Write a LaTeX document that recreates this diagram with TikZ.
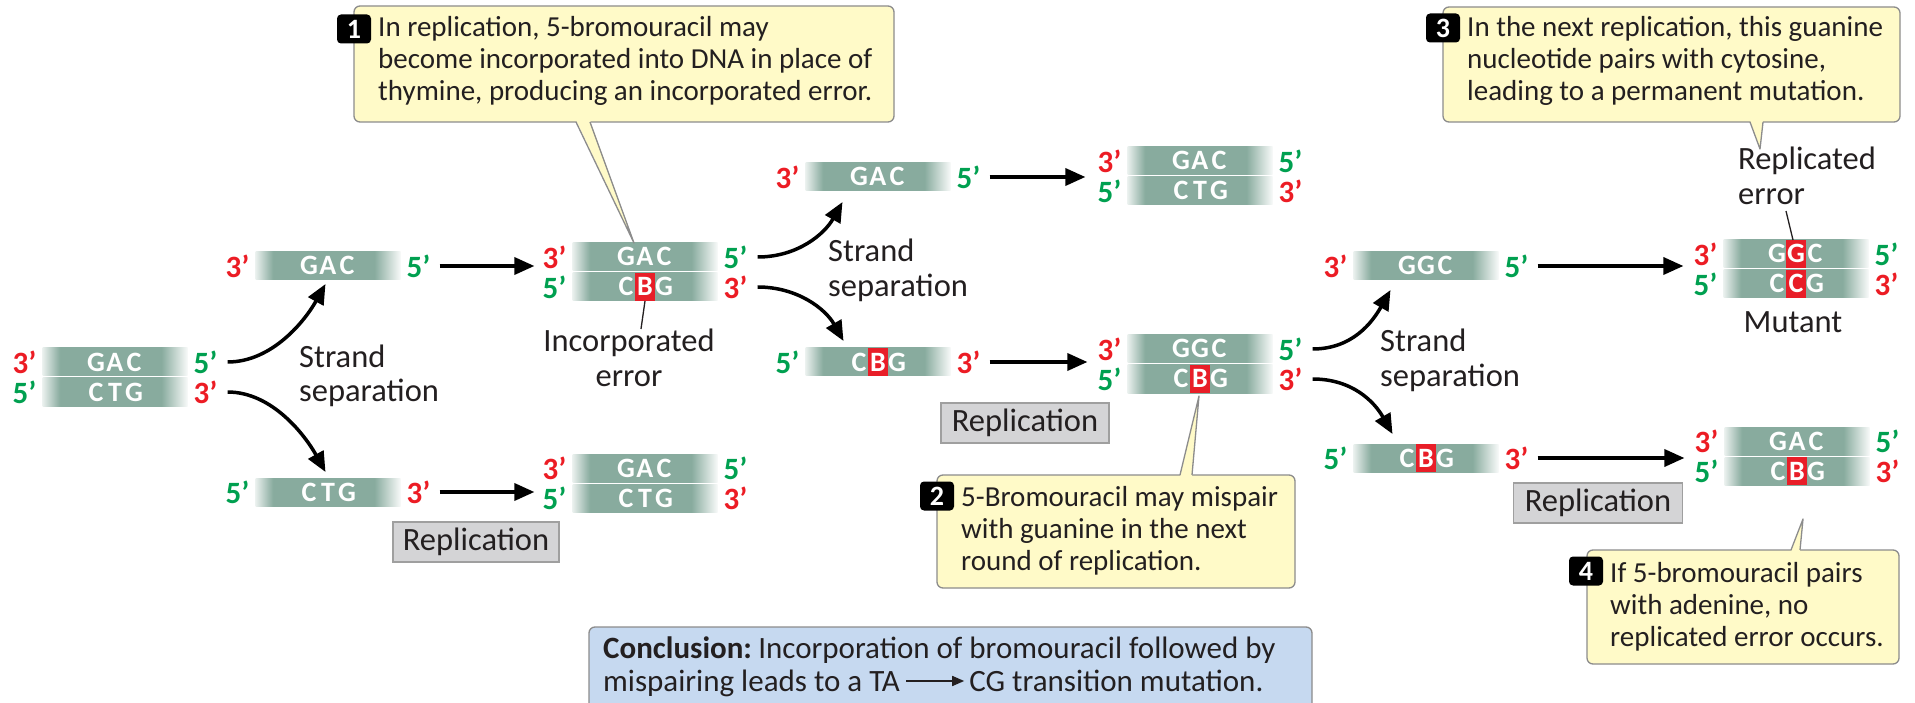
\documentclass[tikz,border=0pt]{standalone}
\usepackage{fontspec}
\setmainfont{Carlito}
\usetikzlibrary{arrows.meta,calc}

\definecolor{dnateal}{RGB}{136,171,158}
\colorlet{dnaedgeL}{dnateal!18}
\colorlet{dnaedgeR}{dnateal!6}
\definecolor{primered}{RGB}{236,28,36}
\definecolor{primegreen}{RGB}{0,160,80}
\definecolor{errred}{RGB}{232,30,40}
\definecolor{inkdark}{RGB}{35,31,32}
\definecolor{notefill}{RGB}{255,250,200}
\definecolor{noteedge}{RGB}{140,140,140}
\definecolor{repfill}{RGB}{212,212,214}
\definecolor{concfill}{RGB}{198,217,240}

% strand bar: fades in on the left, fades out on the right
\pgfdeclarehorizontalshading{strandfade}{100bp}{color(0bp)=(dnaedgeL); color(25bp)=(dnaedgeL); color(31bp)=(dnateal); color(66bp)=(dnateal); color(75bp)=(dnaedgeR); color(100bp)=(dnaedgeR)}

\newcommand\notefont{\fontsize{29}{32}\selectfont}
\newcommand\labelfont{\fontsize{32.5}{34}\selectfont}
\newcommand\concfont{\fontsize{31}{34}\selectfont}
\newcommand\basefont{\fontsize{28}{28}\selectfont\bfseries}
\newcommand\primefont{\fontsize{31}{32}\selectfont\bfseries}
\newcommand\badgefont{\fontsize{28}{28}\selectfont\bfseries}

\newcommand\sstrut{\rule[-5pt]{0pt}{28pt}}
\newcommand\nbase[1]{\makebox[19pt]{#1}}
\newcommand\ebase[1]{\makebox[19pt]{\makebox[0pt]{\textcolor{errred}{\rule[-5pt]{20pt}{28pt}}}\makebox[0pt]{#1}}}
\newcommand\threep{\textcolor{primered}{3’}}
\newcommand\fivep{\textcolor{primegreen}{5’}}

% one strand: name, x, y, left end, right end, bases
\newcommand\dnastrand[6]{%
  \node[strandbar] (#1) at (#2,#3) {\sstrut#6};
  \node[endlab, anchor=east] (#1-l) at ([xshift=-6pt]#1.west) {#4};
  \node[endlab, anchor=west] (#1-r) at ([xshift=6pt]#1.east) {#5};
}

\begin{document}
\begin{tikzpicture}[x=1pt,y=-1pt,
  strandbar/.style={shading=strandfade, minimum width=145pt, minimum height=28pt, inner sep=0pt, outer sep=0pt, text=white, font=\basefont},
  endlab/.style={inner sep=0pt, font=\primefont},
  fwd/.style={line width=3.5pt, draw=black, -{Triangle[length=20pt,width=17pt]}},
  sepcurve/.style={line width=3.5pt, draw=black, -{Triangle[length=20pt,width=17pt]}},
  note/.style={fill=notefill, draw=noteedge, line width=1.3pt, rounded corners=6pt, inner sep=0pt},
  badge/.style={fill=black, rounded corners=4pt, minimum width=34pt, minimum height=29pt, inner sep=0pt, text=white, font=\badgefont},
  txt/.style={inner sep=0pt, text=inkdark, font=\notefont, anchor=base west},
  lbl/.style={inner sep=0pt, text=inkdark, font=\labelfont, anchor=base west},
  clbl/.style={inner sep=0pt, text=inkdark, font=\labelfont, anchor=base},
  ctxt/.style={inner sep=0pt, text=inkdark, font=\concfont, anchor=base west},
  repbox/.style={fill=repfill, draw=gray!75, line width=1.3pt, inner sep=0pt, text=inkdark, font=\labelfont, minimum height=40pt},
  leader/.style={line width=1.3pt, draw=inkdark},
]
\useasboundingbox (0,0) rectangle (1915,703);
\fill[white] (0,0) rectangle (1915,703);

% ---------- duplexes and single strands ----------
\dnastrand{d1t}{115}{362}{\threep}{\fivep}{\nbase{G}\nbase{A}\nbase{C}}
\dnastrand{d1b}{115}{392}{\fivep}{\threep}{\nbase{C}\nbase{T}\nbase{G}}

\dnastrand{s1}{328}{266}{\threep}{\fivep}{\nbase{G}\nbase{A}\nbase{C}}
\dnastrand{s2}{328}{492}{\fivep}{\threep}{\nbase{C}\nbase{T}\nbase{G}}

\dnastrand{d2t}{645}{257}{\threep}{\fivep}{\nbase{G}\nbase{A}\nbase{C}}
\dnastrand{d2b}{645}{287}{\fivep}{\threep}{\nbase{C}\ebase{B}\nbase{G}}

\dnastrand{d3t}{645}{468}{\threep}{\fivep}{\nbase{G}\nbase{A}\nbase{C}}
\dnastrand{d3b}{645}{498}{\fivep}{\threep}{\nbase{C}\nbase{T}\nbase{G}}

\dnastrand{s3}{878}{177}{\threep}{\fivep}{\nbase{G}\nbase{A}\nbase{C}}
\dnastrand{s4}{878}{362}{\fivep}{\threep}{\nbase{C}\ebase{B}\nbase{G}}

\dnastrand{d4t}{1200}{161}{\threep}{\fivep}{\nbase{G}\nbase{A}\nbase{C}}
\dnastrand{d4b}{1200}{191}{\fivep}{\threep}{\nbase{C}\nbase{T}\nbase{G}}

\dnastrand{d5t}{1200}{349}{\threep}{\fivep}{\nbase{G}\nbase{G}\nbase{C}}
\dnastrand{d5b}{1200}{379}{\fivep}{\threep}{\nbase{C}\ebase{B}\nbase{G}}

\dnastrand{s5}{1426}{266}{\threep}{\fivep}{\nbase{G}\nbase{G}\nbase{C}}
\dnastrand{s6}{1426}{458}{\fivep}{\threep}{\nbase{C}\ebase{B}\nbase{G}}

\dnastrand{d6t}{1796}{254}{\threep}{\fivep}{\nbase{G}\ebase{G}\nbase{C}}
\dnastrand{d6b}{1796}{284}{\fivep}{\threep}{\nbase{C}\ebase{C}\nbase{G}}

\dnastrand{d7t}{1797}{441}{\threep}{\fivep}{\nbase{G}\nbase{A}\nbase{C}}
\dnastrand{d7b}{1797}{471}{\fivep}{\threep}{\nbase{C}\ebase{B}\nbase{G}}

% ---------- strand separation ----------
\draw[sepcurve] ([xshift=10pt]d1t-r.east) .. controls +(45,0) and +(-20,36) .. ($(s1.south west)+(70,4)$);
\draw[sepcurve] ([xshift=10pt]d1b-r.east) .. controls +(45,0) and +(-20,-36) .. ($(s2.north west)+(70,-6)$);
\draw[sepcurve] ([xshift=10pt]d2t-r.east) .. controls +(40,0) and +(-18,32) .. ($(s3.south west)+(37,11)$);
\draw[sepcurve] ([xshift=10pt]d2b-r.east) .. controls +(40,0) and +(-18,-32) .. ($(s4.north west)+(38,-7)$);
\draw[sepcurve] ([xshift=10pt]d5t-r.east) .. controls +(40,0) and +(-18,32) .. ($(s5.south west)+(37,10)$);
\draw[sepcurve] ([xshift=10pt]d5b-r.east) .. controls +(40,0) and +(-18,-32) .. ($(s6.north west)+(39,-10)$);

\node[lbl] (sep1a) at (299,367) {Strand};
\node[lbl] (sep1b) at (299,402) {separation};
\node[lbl] (sep2a) at (828,262) {Strand};
\node[lbl] (sep2b) at (828,297) {separation};
\node[lbl] (sep3a) at (1380,352) {Strand};
\node[lbl] (sep3b) at (1380,387) {separation};

% ---------- replication ----------
\path (s1-r.east -| d2t-l.west) coordinate (a1e);
\draw[fwd] ([xshift=9pt]s1-r.east) -- ([xshift=-8pt]a1e);
\path (s2-r.east -| d3t-l.west) coordinate (a2e);
\draw[fwd] ([xshift=9pt]s2-r.east) -- ([xshift=-8pt]a2e);
\path (s3-r.east -| d4t-l.west) coordinate (a3e);
\draw[fwd] ([xshift=9pt]s3-r.east) -- ([xshift=-12pt]a3e);
\path (s4-r.east -| d5t-l.west) coordinate (a4e);
\draw[fwd] ([xshift=9pt]s4-r.east) -- ([xshift=-10pt]a4e);
\path (s5-r.east -| d6t-l.west) coordinate (a5e);
\draw[fwd] ([xshift=9pt]s5-r.east) -- ([xshift=-10pt]a5e);
\path (s6-r.east -| d7t-l.west) coordinate (a6e);
\draw[fwd] ([xshift=9pt]s6-r.east) -- ([xshift=-10pt]a6e);

\node[repbox, minimum width=166pt] (rep1) at (476,542) {Replication};
\node[repbox, minimum width=168pt] (rep2) at (1025,423) {Replication};
\node[repbox, minimum width=169pt] (rep3) at (1598,503) {Replication};

% ---------- error labels ----------
\node[clbl] (inc1) at (629,352) {Incorporated};
\node[clbl] (inc2) at (629,387) {error};
\coordinate (incp) at (641,329);
\draw[leader] (d2b.south) -- (incp);

\node[lbl] (repl1) at (1738,170) {Replicated};
\node[lbl] (repl2) at (1738,205) {error};
\coordinate (replp) at (1786,211);
\draw[leader] (replp) -- ([xshift=-3pt]d6t.north);
\node[clbl] (mut) at (1793,333) {Mutant};

% ---------- callouts ----------
% 1
\node[note, minimum width=540pt, minimum height=116pt] (n1) at (624,64) {};
\coordinate (p1a) at (576,122); \coordinate (p1b) at (590,122); \coordinate (p1t) at (634,243);
\fill[notefill] ($(p1a)+(0,-2)$) -- (p1t) -- ($(p1b)+(0,-2)$) -- cycle;
\draw[noteedge, line width=1.3pt, line join=round] (p1a) -- (p1t) -- (p1b);
\node[badge] (b1) at (354,29) {1};
\node[txt] (n1l1) at (378,37) {In replication, 5-bromouracil may};
\node[txt] (n1l2) at (378,69) {become incorporated into DNA in place of};
\node[txt] (n1l3) at (378,101) {thymine, producing an incorporated error.};

% 2
\node[note, minimum width=358pt, minimum height=113pt] (n2) at (1116,531.5) {};
\coordinate (p2a) at (1180,475); \coordinate (p2b) at (1192,475); \coordinate (p2t) at (1199,396);
\fill[notefill] ($(p2a)+(0,2)$) -- (p2t) -- ($(p2b)+(0,2)$) -- cycle;
\draw[noteedge, line width=1.3pt, line join=round] (p2a) -- (p2t) -- (p2b);
\node[badge] (b2) at (937,496) {2};
\node[txt] (n2l1) at (961,506) {5-Bromouracil may mispair};
\node[txt] (n2l2) at (961,538) {with guanine in the next};
\node[txt] (n2l3) at (961,570) {round of replication.};

% 3
\node[note, minimum width=457pt, minimum height=115pt] (n3) at (1671.5,64.5) {};
\coordinate (p3a) at (1750,122); \coordinate (p3b) at (1763,122); \coordinate (p3t) at (1760,149);
\fill[notefill] ($(p3a)+(0,-2)$) -- (p3t) -- ($(p3b)+(0,-2)$) -- cycle;
\draw[noteedge, line width=1.3pt, line join=round] (p3a) -- (p3t) -- (p3b);
\node[badge] (b3) at (1443,28) {3};
\node[txt] (n3l1) at (1467,37) {In the next replication, this guanine};
\node[txt] (n3l2) at (1467,69) {nucleotide pairs with cytosine,};
\node[txt] (n3l3) at (1467,101) {leading to a permanent mutation.};

% 4
\node[note, minimum width=312pt, minimum height=114pt] (n4) at (1743,607) {};
\coordinate (p4a) at (1791,550); \coordinate (p4b) at (1800,550); \coordinate (p4t) at (1803,519);
\fill[notefill] ($(p4a)+(0,2)$) -- (p4t) -- ($(p4b)+(0,2)$) -- cycle;
\draw[noteedge, line width=1.3pt, line join=round] (p4a) -- (p4t) -- (p4b);
\node[badge] (b4) at (1586,571) {4};
\node[txt] (n4l1) at (1610,582) {If 5-bromouracil pairs};
\node[txt] (n4l2) at (1610,614) {with adenine, no};
\node[txt] (n4l3) at (1610,646) {replicated error occurs.};

% ---------- conclusion ----------
\node[fill=concfill, draw=noteedge, line width=1.3pt, rounded corners=6pt, minimum width=723pt, minimum height=86pt, inner sep=0pt] (cbox) at (950.5,670) {};
\node[ctxt] (c1) at (603,658) {\textbf{Conclusion:}\hspace{-3pt} Incorporation of bromouracil followed by};
\node[ctxt] (c2) at (603,691) {mispairing leads to a TA};
\coordinate (ta1) at ($(c2.base east)+(6,-10)$);
\coordinate (ta2) at ($(ta1)+(58,0)$);
\draw[line width=1.6pt, draw=inkdark, -{Triangle[length=12pt,width=10pt]}] (ta1) -- (ta2);
\node[ctxt] (c3) at ($(ta2)+(5,10)$) {CG transition mutation.};
\end{tikzpicture}
\end{document}
